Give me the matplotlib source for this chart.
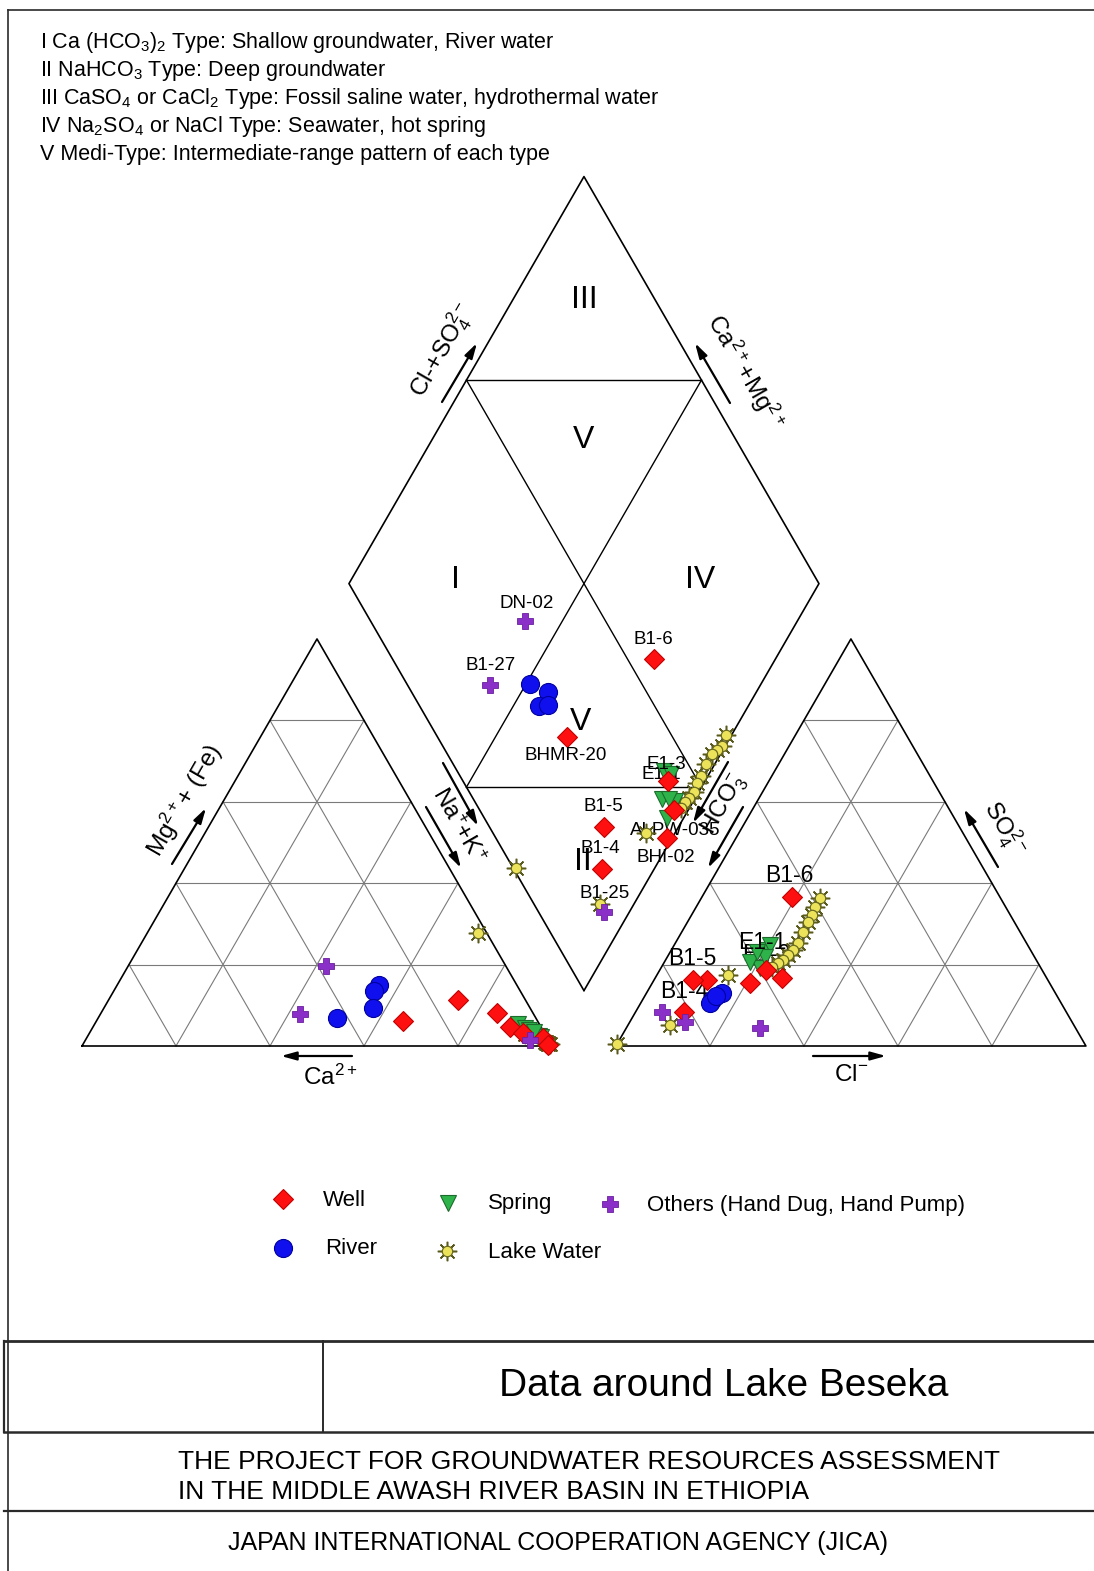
import numpy as np
import matplotlib
matplotlib.use("Agg")
import matplotlib.pyplot as plt

plt.rcParams['font.family'] = ['Liberation Sans', 'DejaVu Sans']
plt.rcParams['mathtext.fontset'] = 'custom'
plt.rcParams['mathtext.rm'] = 'Liberation Sans'
plt.rcParams['mathtext.it'] = 'Liberation Sans:italic'
plt.rcParams['mathtext.bf'] = 'Liberation Sans:bold'

# ---------------- water chemistry, meq % ----------------
# Wells
well_names = ["B1-6", "BHMR-20", "B1-5", "B1-4", "", "", "BHI-02"]
well_ca   = [14.4, 28.7, 7.7, 6.5, 4.6, 1.0, 0.8]
well_mg   = [11.3, 6.1, 8.1, 4.7, 3.2, 2.0, 0.3]
well_nak  = [74.3, 65.2, 84.2, 88.8, 92.2, 97.0, 98.9]
well_hco3 = [44.3, 72.5, 75.5, 81.3, 56.4, 58.7, 63.7]
well_so4  = [36.6, 16.2, 16.2, 8.4, 16.7, 18.7, 15.5]
well_cl   = [19.1, 11.3, 8.3, 10.3, 26.9, 22.6, 20.8]

# Rivers
river_ca   = [42.3, 29.3, 31.1, 33.5]
river_mg   = [6.9, 15.0, 13.5, 9.3]
river_nak  = [50.8, 55.7, 55.4, 57.2]
river_hco3 = [73.9, 70.9, 74.7, 72.5]
river_so4  = [11.3, 13.0, 10.6, 12.3]
river_cl   = [14.8, 16.1, 14.7, 15.2]

# Springs
spring_names = ["E1-3", "E1-1", "", "", "", ""]
spring_ca   = [4.5, 3.5, 3.0, 1.5, 1.3, 2.0]
spring_mg   = [5.5, 4.5, 4.0, 2.5, 2.2, 3.5]
spring_nak  = [90.0, 92.0, 93.0, 96.0, 96.5, 94.5]
spring_hco3 = [56.1, 54.8, 59.8, 57.3, 61.2, 58.4]
spring_so4  = [23.6, 24.8, 19.2, 21.9, 20.6, 23.1]
spring_cl   = [20.3, 20.4, 21.0, 20.8, 18.2, 18.5]

# Others (hand dug wells, hand pumps)
other_names = ["DN-02", "B1-27", "B1-25"]
other_ca   = [38.3, 49.6, 3.9]
other_mg   = [19.7, 7.9, 1.5]
other_nak  = [42.0, 42.5, 94.6]
other_hco3 = [67.2, 82.4, 86.1]
other_so4  = [4.4, 5.9, 8.3]
other_cl   = [28.4, 11.7, 5.6]

# Lake water
lake_names = ["", "", "", "", "", "", "", "", "", "", "", "ALPW-035", "", ""]
lake_ca   = [0.5, 0.3, 0.6, 0.9, 0.9, 0.7, 0.7, 0.5, 0.6, 0.8, 0.9, 3.3, 1.8, 4.3]
lake_mg   = [0.6, 0.4, 0.7, 1.0, 0.9, 0.8, 0.7, 0.6, 0.7, 0.8, 0.9, 3.0, 27.8, 3.0]
lake_nak  = [98.9, 99.3, 98.7, 98.1, 98.2, 98.5, 98.6, 98.9, 98.7, 98.4, 98.2, 93.7, 70.4, 92.7]
lake_hco3 = [38.4, 40.6, 42.2, 43.8, 46.2, 48.7, 50.5, 52.2, 54.0, 55.3, 57.0, 67.5, 99.5, 85.9]
lake_so4  = [36.4, 34.2, 32.2, 30.5, 28.0, 25.3, 23.6, 22.4, 21.1, 20.4, 19.5, 17.4, 0.5, 5.2]
lake_cl   = [25.2, 25.2, 25.6, 25.7, 25.8, 26.0, 25.9, 25.4, 24.9, 24.3, 23.5, 15.1, 0.0, 8.9]

legend_labels = ["Well", "River", "Spring", "Lake Water", "Others (Hand Dug, Hand Pump)"]

header_lines = [
    r"I Ca (HCO$_3$)$_2$ Type: Shallow groundwater, River water",
    r"II NaHCO$_3$ Type: Deep groundwater",
    r"III CaSO$_4$ or CaCl$_2$ Type: Fossil saline water, hydrothermal water",
    r"IV Na$_2$SO$_4$ or NaCl Type: Seawater, hot spring",
    r"V Medi-Type: Intermediate-range pattern of each type",
]

# ---------------- Piper geometry ----------------
S3 = np.sqrt(3) / 2
GAP = 13.6
BX, BY = 100 + GAP / 2, GAP * S3          # bottom vertex of the diamond
LX, LY = BX - 50, BY + 100 * S3            # left vertex of the diamond
TX, TY = BX, BY + 200 * S3                 # top vertex
RX, RY = BX + 50, LY                       # right vertex
CX, CY = BX, LY                            # centre of the diamond


def cation_xy(ca, mg, nak):
    ca, mg, nak = (np.asarray(v, float) for v in (ca, mg, nak))
    tot = ca + mg + nak
    return 100 * (nak + mg / 2) / tot, 100 * mg * S3 / tot


def anion_xy(hco3, so4, cl):
    hco3, so4, cl = (np.asarray(v, float) for v in (hco3, so4, cl))
    tot = hco3 + so4 + cl
    return 100 + GAP + 100 * (cl + so4 / 2) / tot, 100 * so4 * S3 / tot


def diamond_xy(ca, mg, nak, hco3, so4, cl):
    ca, mg, nak, hco3, so4, cl = (np.asarray(v, float) for v in (ca, mg, nak, hco3, so4, cl))
    a = nak / (ca + mg + nak)
    b = (so4 + cl) / (hco3 + so4 + cl)
    return LX + 50 * (a + b), LY + 100 * S3 * (b - a)


W, H = 1094, 1571
fig = plt.figure(figsize=(W / 100, H / 100), dpi=100)
fig.patch.set_facecolor("white")

# frame / annotation layer in pixel coordinates
fr = fig.add_axes([0, 0, 1, 1])
fr.set_xlim(0, W)
fr.set_ylim(H, 0)
fr.axis("off")

# Piper layer in diagram units (4.7 px per percent)
SC = 4.7
ax = fig.add_axes([0, 0, 1, 1])
ax.set_xlim(-82 / SC, (W - 82) / SC)
ax.set_ylim((1046 - H) / SC, 1046 / SC)
ax.axis("off")
ax.patch.set_alpha(0)

edge_kw = dict(color="black", lw=1.2, zorder=2, solid_capstyle="round")
grid_kw = dict(color="#7a7a7a", lw=0.8, zorder=1)

# triangles with 20 % grid
for x0 in (0, 100 + GAP):
    ax.plot([x0, x0 + 100, x0 + 50, x0], [0, 0, 100 * S3, 0], **edge_kw)
    for k in (20, 40, 60, 80):
        ax.plot([x0 + k / 2, x0 + 100 - k / 2], [k * S3, k * S3], **grid_kw)
        ax.plot([x0 + k, x0 + k + (100 - k) / 2], [0, (100 - k) * S3], **grid_kw)
        ax.plot([x0 + 100 - k, x0 + (100 - k) / 2], [0, (100 - k) * S3], **grid_kw)

# diamond and its classification lines
ax.plot([BX, LX, TX, RX, BX], [BY, LY, TY, RY, BY], **edge_kw)
hl = dict(color="black", lw=1.0, zorder=2)
for yy in (BY + 50 * S3, BY + 150 * S3):
    ax.plot([CX - 25, CX + 25], [yy, yy], **hl)
ax.plot([LX + 25, RX - 25], [LY + 50 * S3, BY + 50 * S3], **hl)
ax.plot([RX - 25, LX + 25], [RY + 50 * S3, BY + 50 * S3], **hl)

# region numerals
for txt, dx, dy in [("III", 0, 60.3), ("V", 0, 30.5), ("I", -27.4, 0.7),
                    ("IV", 24.7, 0.7), ("V", -0.8, -29.5), ("II", -0.2, -59.3)]:
    ax.text(CX + dx, CY + dy, txt, fontsize=23, ha="center", va="center", zorder=3)

# ---------------- samples ----------------
styles = {
    "well":   dict(marker="D", ms=10.5, mfc="#ff1010", mec="#c00000", mew=0.8),
    "river":  dict(marker="o", ms=13, mfc="#1010ee", mec="#0000a0", mew=0.8),
    "spring": dict(marker="v", ms=11, mfc="#2db34a", mec="#1d6b2c", mew=0.8),
    "other":  dict(marker="P", ms=12, mfc="#8a2fc8", mec="#6a1fa0", mew=0.6),
}
lake_ray = dict(marker=(8, 2, 0), ms=14, mec="#5a5a1c", mew=1.1, mfc="none")
lake_body = dict(marker="o", ms=7.5, mfc="#ece35a", mec="#6b6b20", mew=0.9)


def positions(ca, mg, nak, hco3, so4, cl):
    return (cation_xy(ca, mg, nak), anion_xy(hco3, so4, cl),
            diamond_xy(ca, mg, nak, hco3, so4, cl))


def draw(pos, style, z):
    for x, y in pos:
        ax.plot(x, y, ls="none", zorder=z, **style)


lake_pos = positions(lake_ca, lake_mg, lake_nak, lake_hco3, lake_so4, lake_cl)
for x, y in lake_pos:
    ax.plot(x, y, ls="none", zorder=5, **lake_ray)
    ax.plot(x, y, ls="none", zorder=5.1, **lake_body)

river_pos = positions(river_ca, river_mg, river_nak, river_hco3, river_so4, river_cl)
draw(river_pos, styles["river"], 6)
spring_pos = positions(spring_ca, spring_mg, spring_nak, spring_hco3, spring_so4, spring_cl)
draw(spring_pos, styles["spring"], 7)
well_pos = positions(well_ca, well_mg, well_nak, well_hco3, well_so4, well_cl)
draw(well_pos, styles["well"], 8)
other_pos = positions(other_ca, other_mg, other_nak, other_hco3, other_so4, other_cl)
draw(other_pos, styles["other"], 9)

# sample labels: (name -> pixel offset, zorder) per panel
diamond_offsets = {
    "DN-02": (2, 18, 10), "B1-27": (0, 19, 10), "B1-6": (-1, 20, 10),
    "BHMR-20": (-1, -18, 10), "B1-5": (-1, 20, 10), "B1-4": (-1, 20, 10),
    "B1-25": (1, 19, 4), "BHI-02": (-1, -19, 10), "ALPW-035": (30, 2, 4),
    "E1-3": (3, 7, 10), "E1-1": (-10, 0, 4),
}
anion_offsets = {
    "B1-6": (-2, 22, 10), "B1-5": (-1, 22, 10), "B1-4": (0, 20, 5.5),
    "E1-3": (0, -5, 4), "E1-1": (-8, 3, 10),
}


def label_group(names, pos):
    (cx, cy), (axx, ayy), (dx, dy) = pos
    for i, nm in enumerate(names):
        if not nm:
            continue
        if nm in diamond_offsets:
            ox, oy, z = diamond_offsets[nm]
            ax.annotate(nm, (dx[i], dy[i]), xytext=(ox, oy), textcoords="offset pixels",
                        ha="center", va="center", fontsize=13.5, zorder=z)
        if nm in anion_offsets:
            ox, oy, z = anion_offsets[nm]
            ax.annotate(nm, (axx[i], ayy[i]), xytext=(ox, oy), textcoords="offset pixels",
                        ha="center", va="center", fontsize=16.5, zorder=z)


label_group(well_names, well_pos)
label_group(spring_names, spring_pos)
label_group(other_names, other_pos)
label_group(lake_names, lake_pos)

# ---------------- axis captions and arrows (pixel layer) ----------------
arrow_kw = dict(arrowstyle="-|>,head_length=0.9,head_width=0.25", lw=1.6, color="black",
                shrinkA=0, shrinkB=0)
for tail, head in [((172, 864), (206, 808)), ((443, 763), (478, 826)),
                   ((426, 807), (461, 868)), ((352, 1056), (281, 1056)),
                   ((813, 1056), (886, 1056)), ((442, 402), (477, 343)),
                   ((730, 403), (695, 343)), ((728, 762), (693, 823)),
                   ((743, 807), (708, 868)), ((998, 867), (964, 809))]:
    fr.annotate("", xy=head, xytext=tail, arrowprops=arrow_kw, zorder=3)

cap = dict(fontsize=17.5, ha="center", va="center")
fr.text(184, 800, r"Mg$^{2+}$+ (Fe)", rotation=60, **cap)
fr.text(458, 826, r"Na$^{+}$+K$^{+}$", rotation=-60, **cap)
fr.text(330, 1077, r"Ca$^{2+}$", **cap)
fr.text(851, 1075, r"Cl$^{-}$", **cap)
fr.text(442, 350, r"Cl-+SO$_4^{2-}$", rotation=60, **cap)
fr.text(745, 372, r"Ca$^{2+}$+Mg$^{2+}$", rotation=-60, **cap)
fr.text(724, 805, r"HCO$_3^{-}$", rotation=60, **cap)
fr.text(1004, 828, r"SO$_4^{2-}$", rotation=-60, **cap)

# header notes
for i, line in enumerate(header_lines):
    fr.text(40, 42 + 28 * i, line, fontsize=15.5, ha="left", va="center")

# legend
leg_items = [("well", 283, 1199), ("river", 283, 1248), ("spring", 448, 1203),
             ("lake", 447, 1251), ("other", 610, 1204)]
leg_text_x = [323, 325, 488, 488, 647]
for (kind, mx, my), lbl, tx in zip(leg_items, legend_labels, leg_text_x):
    if kind == "lake":
        fr.plot(mx, my, ls="none", **lake_ray)
        fr.plot(mx, my, ls="none", **lake_body)
    else:
        fr.plot(mx, my, ls="none", **styles[kind])
    fr.text(tx, my + 1, lbl, fontsize=16, ha="left", va="center")

# ---------------- border and title block ----------------
line_c = "#2a2a2a"
fr.plot([8, 8], [10, H], color=line_c, lw=1.2)
fr.plot([8, W], [10, 10], color=line_c, lw=1.2)
fr.plot([4, 4], [1341, 1432], color=line_c, lw=1.6)
for yy, lw in [(1341, 2.0), (1432, 1.8), (1511, 1.6)]:
    fr.plot([4, W], [yy, yy], color=line_c, lw=lw)
fr.plot([323, 323], [1341, 1432], color=line_c, lw=1.4)

fr.text(724, 1386, "Data around Lake Beseka", fontsize=28, ha="center", va="center")
fr.text(178, 1462, "THE PROJECT FOR GROUNDWATER RESOURCES ASSESSMENT",
        fontsize=19, ha="left", va="center")
fr.text(178, 1492, "IN THE MIDDLE AWASH RIVER BASIN IN ETHIOPIA",
        fontsize=19, ha="left", va="center")
fr.text(558, 1543, "JAPAN INTERNATIONAL COOPERATION AGENCY (JICA)",
        fontsize=18, ha="center", va="center")

fig.savefig("out.png", dpi=100, facecolor="white")
